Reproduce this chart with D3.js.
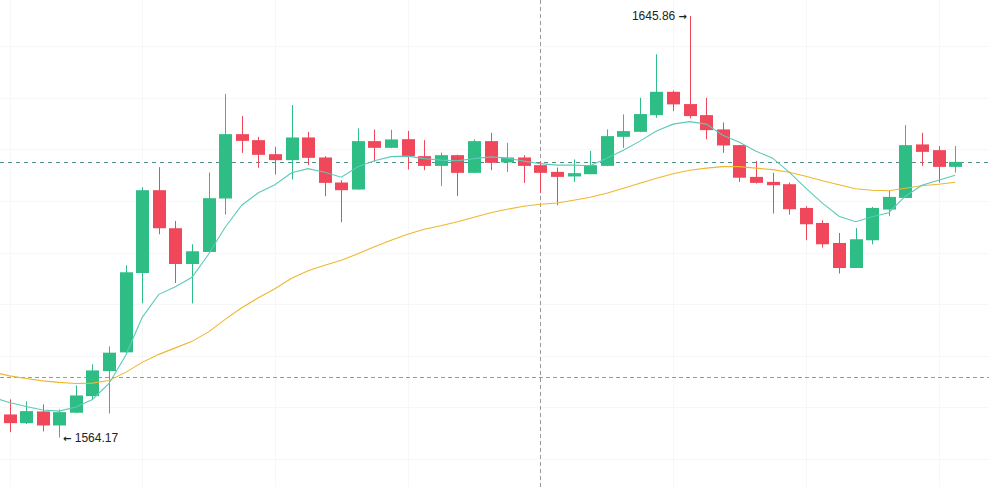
<!DOCTYPE html>
<html>
<head>
<meta charset="utf-8">
<script src="https://cdn.jsdelivr.net/npm/d3@7"></script>
<style>
  html, body { margin: 0; padding: 0; background: #fff; }
  #chart { width: 989px; height: 487px; }
  text { font-family: "Liberation Sans", Arial, sans-serif; }
</style>
</head>
<body>
<div id="chart"></div>
<script>
// Candle data
const opens = [
  1568.64, 1566.95, 1569.22, 1566.50, 1568.97, 1572.19, 1577.04, 1580.67, 1596.05, 1612.10,
  1604.73, 1597.80, 1600.13, 1610.49, 1622.96, 1621.80, 1619.08, 1617.92, 1622.32, 1618.44,
  1613.59, 1612.23, 1621.61, 1620.31, 1621.99, 1618.70, 1616.81, 1618.89, 1615.46, 1621.61,
  1617.47, 1618.44, 1616.95, 1615.65, 1614.76, 1615.20, 1616.81, 1622.44, 1623.41, 1626.65,
  1631.17, 1628.79, 1626.65, 1623.88, 1620.83, 1614.68, 1613.71, 1613.26, 1608.66, 1605.75,
  1601.87, 1597.02, 1602.40, 1608.35, 1610.60, 1620.97, 1619.86, 1616.62
];
const highs = [
  1571.55, 1571.16, 1570.58, 1569.61, 1574.26, 1578.34, 1581.83, 1597.55, 1612.68, 1616.56,
  1606.14, 1601.62, 1615.53, 1630.73, 1626.46, 1622.44, 1620.50, 1628.59, 1623.41, 1618.70,
  1614.04, 1624.07, 1623.88, 1623.80, 1623.60, 1621.80, 1619.41, 1618.99, 1621.94, 1623.22,
  1621.28, 1618.89, 1617.59, 1616.50, 1618.06, 1619.72, 1623.88, 1626.79, 1630.01, 1638.43,
  1631.37, 1645.86, 1630.01, 1625.23, 1620.83, 1617.78, 1615.46, 1613.59, 1608.99, 1606.28,
  1603.81, 1604.78, 1608.86, 1611.96, 1624.71, 1623.22, 1620.64, 1620.64
];
const lows = [
  1565.20, 1566.79, 1565.34, 1564.17, 1568.93, 1571.55, 1568.83, 1580.47, 1590.17, 1603.56,
  1594.11, 1590.17, 1600.07, 1607.38, 1619.34, 1616.43, 1615.14, 1614.17, 1616.95, 1610.93,
  1605.89, 1612.20, 1617.59, 1620.25, 1616.11, 1615.98, 1612.93, 1610.99, 1615.40, 1615.98,
  1615.65, 1613.52, 1611.57, 1609.19, 1613.71, 1615.20, 1616.75, 1620.31, 1623.35, 1626.13,
  1627.43, 1626.01, 1621.94, 1619.34, 1613.71, 1613.40, 1607.58, 1607.38, 1602.40, 1600.98,
  1595.94, 1597.02, 1601.62, 1607.05, 1610.60, 1616.81, 1613.59, 1615.53
];
const closes = [
  1566.95, 1569.28, 1566.50, 1569.08, 1572.32, 1577.17, 1580.61, 1596.19, 1612.10, 1604.73,
  1597.80, 1600.26, 1610.55, 1622.96, 1621.66, 1618.95, 1617.92, 1622.32, 1618.37, 1613.52,
  1612.10, 1621.61, 1620.31, 1621.94, 1618.70, 1616.81, 1618.89, 1615.46, 1621.61, 1617.40,
  1618.44, 1616.81, 1615.46, 1614.68, 1615.40, 1616.95, 1622.58, 1623.55, 1626.85, 1631.17,
  1628.73, 1626.46, 1623.74, 1620.77, 1614.52, 1613.52, 1613.07, 1608.41, 1605.50, 1601.62,
  1597.02, 1602.59, 1608.66, 1610.80, 1620.83, 1619.53, 1616.62, 1617.59
];

// Moving average lines, first value belongs to the candle just left of the view
const maFast = [
  1571.93,
  1570.96, 1570.19, 1569.51, 1569.28, 1570.09, 1571.55, 1574.65, 1580.08, 1587.46, 1591.92,
  1593.37, 1595.22, 1599.68, 1604.92, 1609.19, 1611.61, 1613.17, 1615.49, 1616.27, 1615.59,
  1614.62, 1616.66, 1617.82, 1618.60, 1618.70, 1618.21, 1617.92, 1617.82, 1618.21, 1618.56,
  1618.31, 1617.73, 1617.24, 1616.95, 1616.95, 1616.85, 1618.31, 1619.86, 1621.61, 1623.55,
  1624.90, 1625.39, 1624.90, 1622.77, 1621.41, 1619.67, 1618.31, 1615.59, 1612.49, 1609.58,
  1607.05, 1605.99, 1606.96, 1607.73, 1610.93, 1613.07, 1614.04, 1615.01
];
const maSlow = [
  1576.88,
  1576.11, 1575.62, 1575.14, 1574.85, 1574.65, 1574.71, 1575.23, 1576.79, 1578.73, 1580.28,
  1581.54, 1582.80, 1584.64, 1587.07, 1589.30, 1591.24, 1592.99, 1595.02, 1596.48, 1597.55,
  1598.52, 1599.78, 1601.14, 1602.40, 1603.56, 1604.53, 1605.21, 1605.99, 1606.86, 1607.73,
  1608.41, 1608.99, 1609.38, 1609.63, 1610.16, 1610.74, 1611.52, 1612.49, 1613.46, 1614.43,
  1615.30, 1615.98, 1616.37, 1616.66, 1616.66, 1616.37, 1616.08, 1615.59, 1614.82, 1613.94,
  1613.17, 1612.39, 1612.10, 1612.00, 1612.49, 1612.97, 1613.26, 1613.65
];

const gridPrices = [1560, 1570, 1580, 1590, 1600, 1610, 1620, 1630, 1640];
const gridEvery = 8;
const crosshairIndex = 32;
const crosshairPrice = 1575.8;

const colors = {
  up: '#2ebd85',
  down: '#f0475a',
  fast: '#5ccab9',
  slow: '#f0b62f',
  grid: '#f7f7f7',
  cross: '#9a9a9a',
  last: '#4d9088',
  text: '#222'
};

function drawCandles(container) {
  const width = 989;
  const height = 487;
  const n = closes.length;

  const svg = d3.select(container)
    .append('svg')
    .attr('width', width)
    .attr('height', height);

  // Scales
  const x = d3.scaleLinear().domain([0, n - 1]).range([9.5, 955.1]);
  const y = d3.scaleLinear()
    .domain([d3.min(lows), d3.max(highs)])
    .range([437.5, 16]);
  const step = x(1) - x(0);
  const bodyW = Math.round(step * 0.76);

  // Faint grid
  svg.append('g')
    .selectAll('line')
    .data(gridPrices)
    .enter()
    .append('line')
    .attr('x1', 0).attr('x2', width)
    .attr('y1', d => Math.round(y(d)) + 0.5)
    .attr('y2', d => Math.round(y(d)) + 0.5)
    .style('stroke', colors.grid);

  svg.append('g')
    .selectAll('line')
    .data(d3.range(0, n, gridEvery))
    .enter()
    .append('line')
    .attr('x1', d => Math.round(x(d)) + 0.5)
    .attr('x2', d => Math.round(x(d)) + 0.5)
    .attr('y1', 0).attr('y2', height)
    .style('stroke', colors.grid);

  // Crosshair
  svg.append('line')
    .attr('x1', Math.round(x(crosshairIndex)) + 0.5)
    .attr('x2', Math.round(x(crosshairIndex)) + 0.5)
    .attr('y1', 0).attr('y2', height)
    .style('stroke', colors.cross)
    .style('stroke-dasharray', '4,3');

  svg.append('line')
    .attr('x1', 0).attr('x2', width)
    .attr('y1', Math.round(y(crosshairPrice)) + 0.5)
    .attr('y2', Math.round(y(crosshairPrice)) + 0.5)
    .style('stroke', colors.cross)
    .style('stroke-dasharray', '4,3');

  // Last price line
  svg.append('line')
    .attr('x1', 0).attr('x2', width)
    .attr('y1', Math.round(y(closes[n - 1])) + 0.5)
    .attr('y2', Math.round(y(closes[n - 1])) + 0.5)
    .style('stroke', colors.last)
    .style('stroke-dasharray', '4,4');

  // Candles
  const candle = svg.append('g')
    .selectAll('g')
    .data(d3.range(n))
    .enter()
    .append('g')
    .style('fill', i => closes[i] >= opens[i] ? colors.up : colors.down)
    .style('stroke', i => closes[i] >= opens[i] ? colors.up : colors.down);

  candle.append('line')
    .attr('x1', i => Math.round(x(i)) + 0.5)
    .attr('x2', i => Math.round(x(i)) + 0.5)
    .attr('y1', i => y(highs[i]))
    .attr('y2', i => y(lows[i]))
    .style('stroke-width', 1);

  candle.append('rect')
    .attr('x', i => Math.round(x(i)) + 0.5 - bodyW / 2)
    .attr('width', bodyW)
    .attr('y', i => y(Math.max(opens[i], closes[i])))
    .attr('height', i => Math.max(1, Math.abs(y(opens[i]) - y(closes[i]))))
    .style('stroke', 'none');

  // Moving averages
  const line = d3.line()
    .x((d, i) => x(i - 1))
    .y(d => y(d));

  svg.append('path')
    .datum(maSlow)
    .attr('d', line)
    .style('fill', 'none')
    .style('stroke', colors.slow)
    .style('stroke-width', 1.1);

  svg.append('path')
    .datum(maFast)
    .attr('d', line)
    .style('fill', 'none')
    .style('stroke', colors.fast)
    .style('stroke-width', 1.1);

  // High / low markers
  const hi = highs.indexOf(d3.max(highs));
  const lo = lows.indexOf(d3.min(lows));

  const hiText = svg.append('text')
    .attr('x', Math.round(x(hi)) - 3)
    .attr('y', y(highs[hi]))
    .attr('dy', '0.35em')
    .style('text-anchor', 'end')
    .style('font-size', '12px')
    .style('fill', colors.text);
  hiText.append('tspan').text(`${highs[hi].toFixed(2)} `);
  hiText.append('tspan')
    .style('font-family', '"DejaVu Sans", sans-serif')
    .style('font-weight', 'bold')
    .style('font-size', '10px')
    .text('\u2192');

  const loText = svg.append('text')
    .attr('x', Math.round(x(lo)) + 4)
    .attr('y', y(lows[lo]))
    .attr('dy', '0.35em')
    .style('text-anchor', 'start')
    .style('font-size', '12px')
    .style('fill', colors.text);
  loText.append('tspan')
    .style('font-family', '"DejaVu Sans", sans-serif')
    .style('font-weight', 'bold')
    .style('font-size', '10px')
    .text('\u2190');
  loText.append('tspan').text(` ${lows[lo].toFixed(2)}`);
}

drawCandles(document.getElementById('chart'));
</script>
</body>
</html>
